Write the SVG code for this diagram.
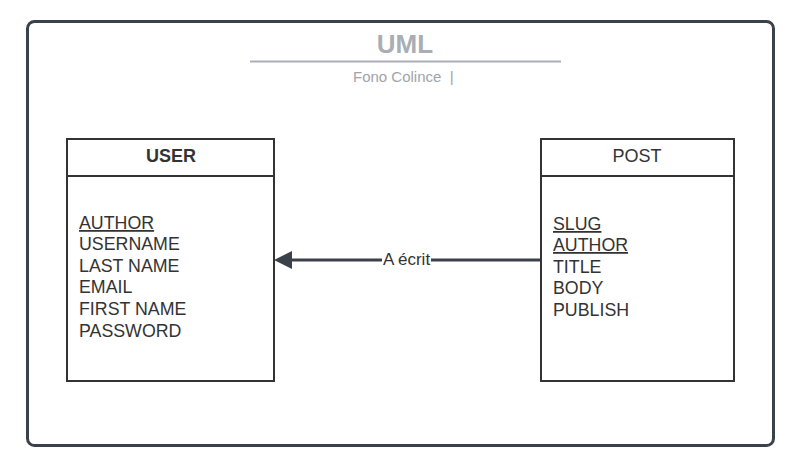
<svg xmlns="http://www.w3.org/2000/svg" width="797" height="467" viewBox="0 0 797 467">
<defs>
<style>
.box{fill:#fff;stroke:#333333;stroke-width:2}
.t{font-family:"Liberation Sans",Arial,sans-serif;fill:#333333}
.attr{font-size:17.8px}
.u{text-decoration:underline}
</style>
</defs>
<rect x="27.5" y="21.5" width="746" height="424" rx="7" fill="#fff" stroke="#3a414a" stroke-width="3"/>
<g id="title">
<text x="405" y="53" text-anchor="middle" class="t" style="font-size:26px;font-weight:bold;fill:#a9adb5">UML</text>
<line x1="250" y1="61.5" x2="561" y2="61.5" stroke="#a9adb5" stroke-width="2"/>
<text x="353" y="82" class="t" style="font-size:15px;fill:#a0a4ab">Fono Colince&#160;&#160;|</text>
</g>
<g id="connectors">
<line x1="540" y1="260" x2="292" y2="260" stroke="#3a414a" stroke-width="3"/>
<path d="M292,251 L274,260 L292,269 Z" fill="#3a414a"/>
<rect x="382" y="250" width="49" height="18" fill="#fff"/>
<text x="406.5" y="265" text-anchor="middle" class="t" style="font-size:17px">A écrit</text>
</g>
<g id="user">
<rect class="box" x="67" y="139" width="207" height="242"/>
<line x1="67" y1="176" x2="274" y2="176" stroke="#333333" stroke-width="2"/>
<text x="171" y="162" text-anchor="middle" class="t" style="font-size:18px;font-weight:bold">USER</text>
<text class="t attr u" x="79" y="229">AUTHOR</text>
<text class="t attr" x="79" y="250">USERNAME</text>
<text class="t attr" x="79" y="272">LAST NAME</text>
<text class="t attr" x="79" y="293">EMAIL</text>
<text class="t attr" x="79" y="315">FIRST NAME</text>
<text class="t attr" x="79" y="337">PASSWORD</text>
</g>
<g id="post">
<rect class="box" x="541" y="139" width="193" height="242"/>
<line x1="541" y1="176" x2="734" y2="176" stroke="#333333" stroke-width="2"/>
<text x="637" y="162" text-anchor="middle" class="t" style="font-size:18px">POST</text>
<text class="t attr u" x="553" y="230">SLUG</text>
<text class="t attr u" x="553" y="251">AUTHOR</text>
<text class="t attr" x="553" y="273">TITLE</text>
<text class="t attr" x="553" y="294">BODY</text>
<text class="t attr" x="553" y="316">PUBLISH</text>
</g>
</svg>
